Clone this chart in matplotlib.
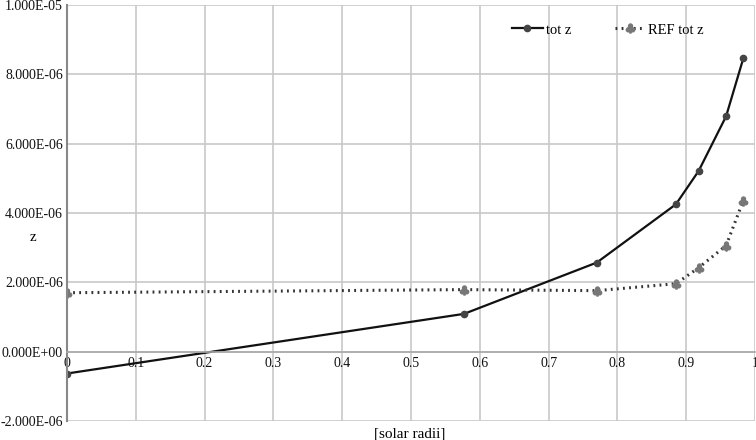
import matplotlib
matplotlib.use('Agg')
import matplotlib.pyplot as plt
from matplotlib.ticker import FuncFormatter, MultipleLocator

plt.rcParams['font.family'] = ['Liberation Serif', 'DejaVu Serif']

# solar radii positions
radius = [0.0, 0.577, 0.77, 0.885, 0.918, 0.958, 0.983]
tot_z = [-6.3e-07, 1.09e-06, 2.57e-06, 4.25e-06, 5.21e-06, 6.79e-06, 8.46e-06]
ref_tot_z = [1.70e-06, 1.79e-06, 1.76e-06, 1.96e-06, 2.42e-06, 3.06e-06, 4.36e-06]

fig = plt.figure(figsize=(7.56, 4.4), dpi=100)
ax = fig.add_axes([67/756, 19/440, 688/756, 416/440])

ax.plot(radius, tot_z, color='#111111', lw=1.6, marker='o', ms=4.5,
        mfc='#444444', mec='#444444', label='tot z')
ax.plot(radius, ref_tot_z, color='#333333', lw=2.2, ls=(0, (0.6, 1.4)),
        marker=r'$\clubsuit$', ms=6.5, mfc='#777777', mec='#777777', label='REF tot z')

ax.set_xlim(0, 1)
ax.set_ylim(-2e-06, 1e-05)
ax.xaxis.set_major_locator(MultipleLocator(0.1))
ax.yaxis.set_major_locator(MultipleLocator(2e-06))
ax.xaxis.set_major_formatter(FuncFormatter(lambda v, p: '{:g}'.format(round(v, 1))))
ax.yaxis.set_major_formatter(FuncFormatter(lambda v, p: '{:.3E}'.format(0 if abs(v) < 1e-12 else v)))
ax.grid(True, color='#c8c8c8', lw=1.2)
ax.set_axisbelow(True)

for s in ['top', 'right']:
    ax.spines[s].set_visible(False)
ax.spines['bottom'].set_position(('data', 0))
ax.spines['bottom'].set_color('#aaaaaa')
ax.spines['bottom'].set_linewidth(1.2)
ax.spines['left'].set_color('#888888')
ax.spines['left'].set_linewidth(1.5)
ax.tick_params(length=0, labelsize=10, colors='#111111')
ax.tick_params(axis='x', pad=4)
ax.tick_params(axis='y', pad=3)

fig.text(33/756, 1 - 237/440, 'z', fontsize=11, ha='center', va='center')
fig.text(410/756, 1 - 434/440, '[solar radii]', fontsize=11, ha='center', va='center')

ax.legend(loc='center left', bbox_to_anchor=(0.647, 0.94), ncol=2, frameon=False,
          fontsize=10.5, borderpad=0, borderaxespad=0,
          handlelength=2.1, handletextpad=0.2, columnspacing=3.0)

fig.savefig('out.png', dpi=100)
